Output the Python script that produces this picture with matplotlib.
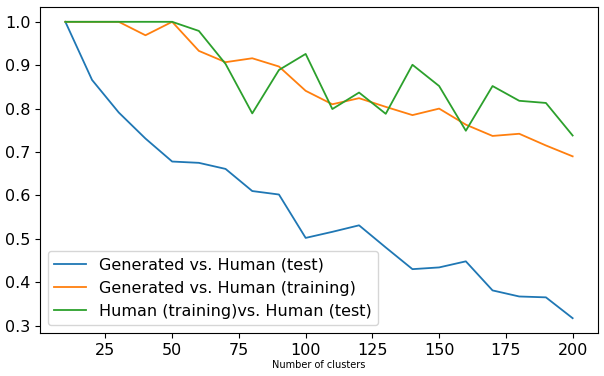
import matplotlib
matplotlib.use("Agg")
import matplotlib.pyplot as plt

clusters = [10, 20, 30, 40, 50, 60, 70, 80, 90, 100,
            110, 120, 130, 140, 150, 160, 170, 180, 190, 200]

gen_vs_human_test = [1.0, 0.866, 0.791, 0.731, 0.678, 0.675, 0.661, 0.610, 0.602, 0.502,
                     0.516, 0.531, 0.480, 0.430, 0.434, 0.448, 0.381, 0.367, 0.365, 0.317]
gen_vs_human_train = [1.0, 1.0, 1.0, 0.969, 1.0, 0.933, 0.907, 0.916, 0.897, 0.841,
                      0.810, 0.824, 0.804, 0.785, 0.800, 0.763, 0.737, 0.742, 0.715, 0.690]
human_train_vs_test = [1.0, 1.0, 1.0, 1.0, 1.0, 0.979, 0.903, 0.789, 0.889, 0.926,
                       0.799, 0.837, 0.788, 0.901, 0.852, 0.749, 0.852, 0.818, 0.813, 0.738]

fig = plt.figure(figsize=(6.04, 3.76), dpi=100)
ax = fig.add_subplot(111)
fig.subplots_adjust(left=40/604, right=598/604, top=1-7/376, bottom=1-333/376)

ax.plot(clusters, gen_vs_human_test, color="#1f77b4", lw=1.3, label="Generated vs. Human (test)")
ax.plot(clusters, gen_vs_human_train, color="#ff7f0e", lw=1.3, label="Generated vs. Human (training)")
ax.plot(clusters, human_train_vs_test, color="#2ca02c", lw=1.3, label="Human (training)vs. Human (test)")

ax.set_xlabel("Number of clusters", fontsize=7, labelpad=2)
ax.set_yticks([0.3, 0.4, 0.5, 0.6, 0.7, 0.8, 0.9, 1.0])
ax.set_xticks([25, 50, 75, 100, 125, 150, 175, 200])
ax.tick_params(labelsize=11.5)
ax.legend(loc="lower left", fontsize=11.5)

fig.savefig("out.png", dpi=100)
